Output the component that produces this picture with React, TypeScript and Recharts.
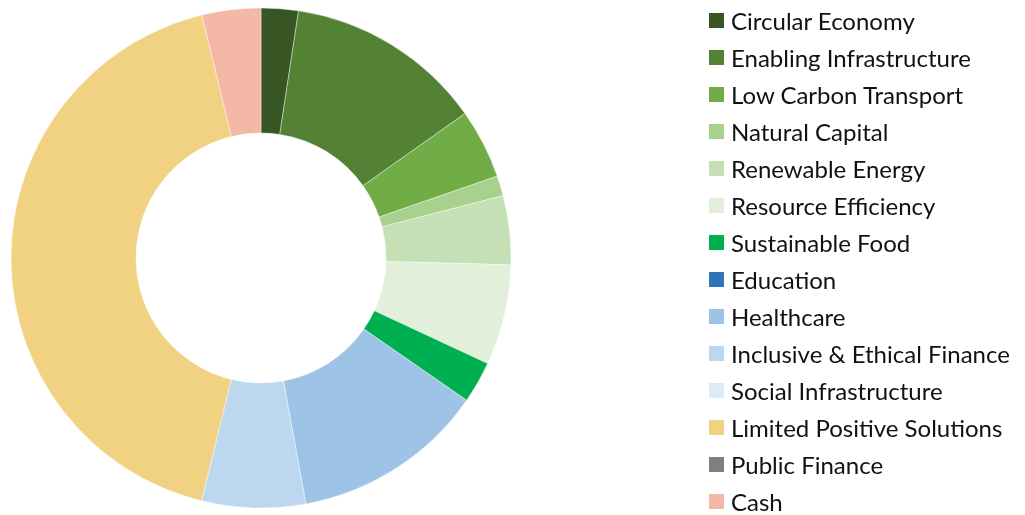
import { PieChart, Pie, Cell, Legend } from "recharts";

const CATEGORIES = [
  "Circular Economy",
  "Enabling Infrastructure",
  "Low Carbon Transport",
  "Natural Capital",
  "Renewable Energy",
  "Resource Efficiency",
  "Sustainable Food",
  "Education",
  "Healthcare",
  "Inclusive & Ethical Finance",
  "Social Infrastructure",
  "Limited Positive Solutions",
  "Public Finance",
  "Cash",
];

const VALUES = [2.4, 12.8, 4.5, 1.3, 4.45, 6.5, 2.7, 0, 12.5, 6.7, 0, 42.4, 0, 3.8];

const COLORS = [
  "#375623",
  "#548235",
  "#70ad47",
  "#a9d18e",
  "#c5e0b4",
  "#e2efda",
  "#00b050",
  "#2e75b6",
  "#9dc3e6",
  "#bdd7ee",
  "#deebf7",
  "#f0d282",
  "#7f7f7f",
  "#f4b9a6",
];

const data = CATEGORIES.map((name, i) => ({ name, value: VALUES[i], color: COLORS[i] }));

function LegendList() {
  return (
    <div>
      {data.map((item) => (
        <div
          key={item.name}
          style={{ display: "flex", alignItems: "center", height: 37 }}
        >
          <div style={{ width: 15, height: 15, backgroundColor: item.color, marginRight: 7 }} />
          <span style={{ fontFamily: "Lato", fontSize: 24, color: "#111", whiteSpace: "nowrap" }}>
            {item.name}
          </span>
        </div>
      ))}
    </div>
  );
}

export default function App() {
  return (
    <div style={{ position: "fixed", left: 0, top: 0, background: "#fff" }}>
      <PieChart width={1025} height={515} margin={{ top: 0, right: 0, bottom: 0, left: 0 }}>
        <Pie
          data={data}
          dataKey="value"
          nameKey="name"
          cx={261}
          cy={258}
          innerRadius={125}
          outerRadius={250}
          startAngle={90}
          endAngle={-270}
          stroke="#fff"
          strokeWidth={0.4}
          isAnimationActive={false}
        >
          {data.map((entry, index) => (
            <Cell key={`cell-${index}`} fill={entry.color} />
          ))}
        </Pie>
        <Legend
          layout="vertical"
          align="right"
          verticalAlign="top"
          wrapperStyle={{ left: 709, top: 2, width: 316 }}
          content={() => <LegendList />}
        />
      </PieChart>
    </div>
  );
}
